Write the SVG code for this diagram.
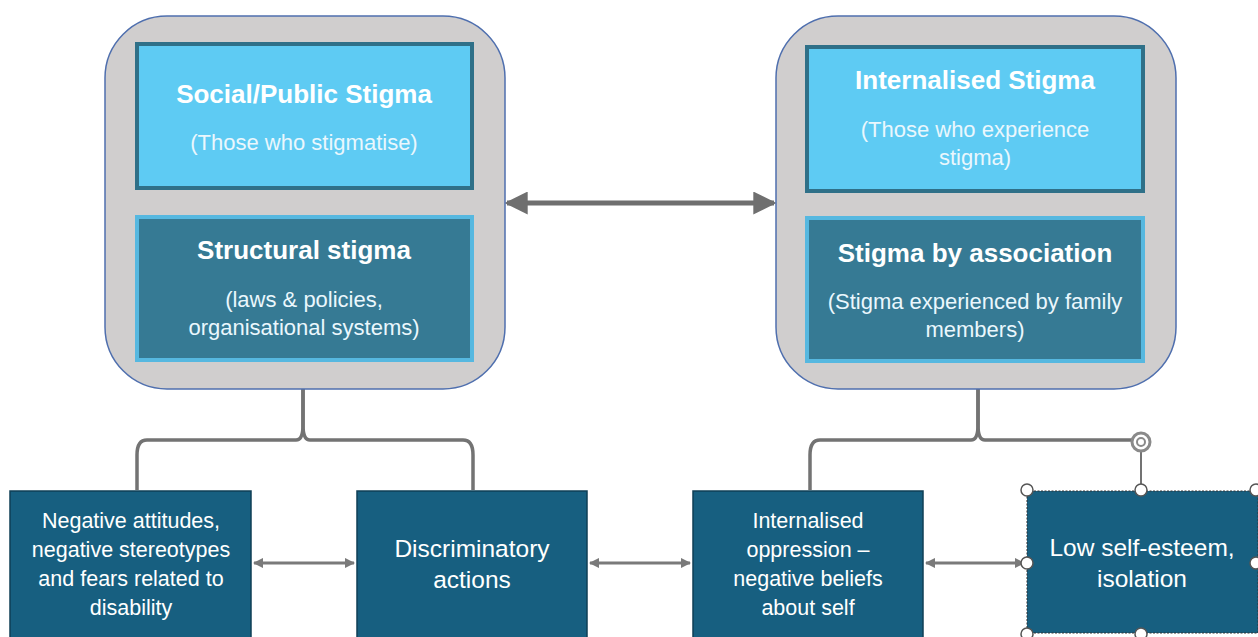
<svg xmlns="http://www.w3.org/2000/svg" width="1258" height="637" viewBox="0 0 1258 637">
<defs>
<style>
.grp{fill:#d0cece;stroke:#4f6fae;stroke-width:1.5}
.lt{fill:#5ecbf3;stroke:#2f7088;stroke-width:4}
.dk{fill:#367a94;stroke:#56b8e0;stroke-width:4}
.bx{fill:#175f80;stroke:#0f3f56;stroke-width:1.5}
.t{font-family:"Liberation Sans",Arial,sans-serif;fill:#ffffff;text-anchor:middle}
.h{font-size:26px;font-weight:bold}
.s{font-size:22px;fill:#eaf7fd}
.b{font-size:21.5px}
.b2{font-size:24.5px}
.con{fill:none;stroke:#737373;stroke-width:3.5}
.sa{fill:none;stroke:#7a7a7a;stroke-width:3}
.hd{fill:#ffffff;stroke:#555555;stroke-width:1.5}
</style>
<marker id="big" viewBox="0 0 10 10" refX="9" refY="5" markerWidth="4.6" markerHeight="4.6" orient="auto-start-reverse" markerUnits="strokeWidth">
<path d="M0,0 L10,5 L0,10 z" fill="#6f6f6f"/>
</marker>
<marker id="sm" viewBox="0 0 10 10" refX="9" refY="5" markerWidth="3.5" markerHeight="3.5" orient="auto-start-reverse" markerUnits="strokeWidth">
<path d="M0,0 L10,5 L0,10 z" fill="#7a7a7a"/>
</marker>
</defs>
<rect width="1258" height="637" fill="#ffffff"/>

<g id="connectors">
<line x1="507" y1="203" x2="774" y2="203" stroke="#6f6f6f" stroke-width="5" marker-start="url(#big)" marker-end="url(#big)"/>
<path class="con" d="M303,389 V425 Q303,440 296,440 H147 Q137,440 137,455 V490"/>
<path class="con" d="M303,389 V425 Q303,440 310,440 H463 Q473,440 473,455 V490"/>
<path class="con" d="M978,389 V425 Q978,440 971,440 H820 Q810,440 810,455 V490"/>
<path class="con" d="M978,389 V425 Q978,440 985,440 H1132"/>
<line x1="254" y1="563" x2="354" y2="563" class="sa" marker-start="url(#sm)" marker-end="url(#sm)"/>
<line x1="590" y1="563" x2="690" y2="563" class="sa" marker-start="url(#sm)" marker-end="url(#sm)"/>
<line x1="926" y1="563" x2="1024" y2="563" class="sa" marker-start="url(#sm)" marker-end="url(#sm)"/>
</g>

<g id="social-group">
<rect class="grp" x="105" y="16" width="400" height="373" rx="62"/>
</g>
<g id="social-public">
<rect class="lt" x="137" y="44" width="335" height="144"/>
<text class="t h" x="304" y="103">Social/Public Stigma</text>
<text class="t s" x="304" y="150">(Those who stigmatise)</text>
</g>
<g id="structural">
<rect class="dk" x="137" y="217" width="335" height="143"/>
<text class="t h" x="304" y="259">Structural stigma</text>
<text class="t s" x="304" y="307">(laws &amp; policies,</text>
<text class="t s" x="304" y="335">organisational systems)</text>
</g>

<g id="internal-group">
<rect class="grp" x="776" y="16" width="400" height="373" rx="62"/>
</g>
<g id="internalised">
<rect class="lt" x="807" y="47" width="336" height="144"/>
<text class="t h" x="975" y="89">Internalised Stigma</text>
<text class="t s" x="975" y="137">(Those who experience</text>
<text class="t s" x="975" y="165">stigma)</text>
</g>
<g id="association">
<rect class="dk" x="807" y="218" width="336" height="143"/>
<text class="t h" x="975" y="262">Stigma by association</text>
<text class="t s" x="975" y="309">(Stigma experienced by family</text>
<text class="t s" x="975" y="337">members)</text>
</g>

<g id="negative-attitudes">
<rect class="bx" x="10" y="491" width="241" height="150"/>
<text class="t b" x="131" y="528">Negative attitudes,</text>
<text class="t b" x="131" y="557">negative stereotypes</text>
<text class="t b" x="131" y="586">and fears related to</text>
<text class="t b" x="131" y="615">disability</text>
</g>
<g id="discriminatory">
<rect class="bx" x="357" y="491" width="230" height="150"/>
<text class="t b2" x="472" y="557">Discriminatory</text>
<text class="t b2" x="472" y="588">actions</text>
</g>
<g id="internalised-oppression">
<rect class="bx" x="693" y="491" width="230" height="150"/>
<text class="t b" x="808" y="528">Internalised</text>
<text class="t b" x="808" y="557">oppression –</text>
<text class="t b" x="808" y="586">negative beliefs</text>
<text class="t b" x="808" y="615">about self</text>
</g>
<g id="low-self-esteem">
<rect x="1027" y="491" width="231" height="142" fill="#175f80" stroke="#333" stroke-width="1" stroke-dasharray="2,1.5"/>
<text class="t b2" x="1142" y="556">Low self-esteem,</text>
<text class="t b2" x="1142" y="587">isolation</text>
<line x1="1141" y1="452" x2="1141" y2="490" stroke="#737373" stroke-width="2"/>
<circle cx="1141" cy="442" r="9" fill="none" stroke="#8a8a8a" stroke-width="3"/>
<circle cx="1141" cy="442" r="4" fill="none" stroke="#8a8a8a" stroke-width="2"/>
<circle class="hd" cx="1027" cy="490" r="6"/>
<circle class="hd" cx="1141" cy="490" r="6"/>
<circle class="hd" cx="1256" cy="490" r="6"/>
<circle class="hd" cx="1027" cy="563" r="6"/>
<circle class="hd" cx="1256" cy="563" r="6"/>
<circle class="hd" cx="1027" cy="634" r="6"/>
<circle class="hd" cx="1141" cy="634" r="6"/>
</g>
</svg>
